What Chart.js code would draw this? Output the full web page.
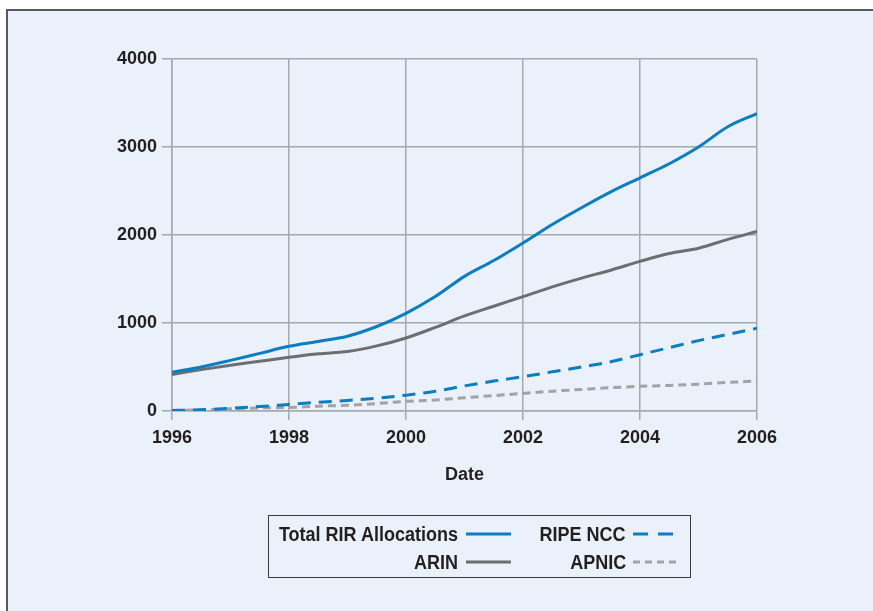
<!DOCTYPE html>
<html>
<head>
<meta charset="utf-8">
<script src="https://cdn.jsdelivr.net/npm/chart.js@4/dist/chart.umd.min.js"></script>
<style>
  html, body { margin: 0; padding: 0; background: #fff; }
  body { width: 873px; height: 611px; position: relative; overflow: hidden;
         font-family: 'Liberation Sans', Arial, sans-serif; }
  #frame { position: absolute; left: 6px; top: 9px; width: 900px; height: 640px;
           background: #eaf1fa; border-top: 2px solid #5a5a5c; border-left: 2px solid #5a5a5c; }
  #wrap { position: absolute; left: 0; top: 0; width: 873px; height: 611px; }
  #legend { position: absolute; left: 268px; top: 515px; width: 421px; height: 61px;
            border: 1px solid #3a3a3c; font-weight: bold; font-size: 20px; color: #231f20; }
  .item { position: absolute; height: 24px; line-height: 24px; }
  .item span { position: absolute; white-space: nowrap; top: 0;
               transform: scaleX(0.9); transform-origin: right center; }
  .item svg { position: absolute; top: 6px; }
</style>
</head>
<body>
<div id="frame"></div>
<div id="wrap"><canvas id="chart" width="873" height="611"></canvas></div>
<div id="legend"></div>
<script>
const years = [1996, 1996.5, 1997, 1997.5, 1998, 1998.5, 1999, 1999.5, 2000, 2000.5, 2001,
               2001.5, 2002, 2002.5, 2003, 2003.5, 2004, 2004.5, 2005, 2005.5, 2006];
const totalRIR = [440, 500, 575, 655, 735, 790, 850, 960, 1110, 1300, 1530,
                  1710, 1910, 2120, 2310, 2490, 2650, 2810, 3000, 3230, 3380];
const arin = [415, 470, 520, 565, 610, 650, 675, 740, 830, 950, 1080,
              1190, 1300, 1410, 1510, 1600, 1700, 1790, 1850, 1950, 2040];
const ripeNcc = [5, 15, 30, 50, 75, 100, 120, 145, 180, 225, 285,
                 340, 390, 445, 500, 560, 640, 720, 800, 870, 940];
const apnic = [5, 15, 25, 35, 40, 55, 65, 85, 110, 125, 150,
               175, 200, 225, 245, 265, 280, 290, 305, 325, 340];
const xTicks = [1996, 1998, 2000, 2002, 2004, 2006];
const yTicks = [0, 1000, 2000, 3000, 4000];

const BLUE = '#0a7dc4';
const DARK = '#6d6e71';
const LIGHT = '#a2a3a6';
const GRID = '#a7a9ac';
const FONT = "'Liberation Sans', Arial, sans-serif";

function points(values) {
    return years.map((y, i) => ({ x: y, y: values[i] }));
}

const series = [
    { label: 'Total RIR Allocations', data: totalRIR, color: BLUE, dash: [], legendDash: '' },
    { label: 'ARIN', data: arin, color: DARK, dash: [], legendDash: '' },
    { label: 'RIPE NCC', data: ripeNcc, color: BLUE, dash: [13, 8], legendDash: '15 10' },
    { label: 'APNIC', data: apnic, color: LIGHT, dash: [8, 5], legendDash: '7 5' }
];

new Chart(document.getElementById('chart'), {
    type: 'line',
    data: {
        datasets: series.map(s => ({
            label: s.label,
            data: points(s.data),
            borderColor: s.color,
            borderWidth: 3,
            borderDash: s.dash,
            pointRadius: 0,
            cubicInterpolationMode: 'monotone',
            fill: false
        }))
    },
    options: {
        responsive: false,
        animation: false,
        layout: { padding: { left: 0, top: 59, right: 116, bottom: 120 } },
        plugins: { legend: { display: false }, tooltip: { enabled: false } },
        scales: {
            x: {
                type: 'linear',
                min: 1996,
                max: 2006,
                afterBuildTicks(scale) { scale.ticks = xTicks.map(v => ({ value: v })); },
                afterFit(scale) { scale.height = 80; },
                grid: { color: GRID, lineWidth: 1.5, tickLength: 9, tickColor: GRID },
                border: { color: GRID, width: 1.5 },
                ticks: {
                    color: '#231f20', padding: 7,
                    font: { family: FONT, size: 18, weight: 'bold' },
                    callback: v => String(v)
                },
                title: {
                    display: true, text: 'Date', color: '#231f20',
                    padding: { top: 4, bottom: 5 },
                    font: { family: FONT, size: 18, weight: 'bold' }
                }
            },
            y: {
                min: 0,
                max: 4000,
                afterBuildTicks(scale) { scale.ticks = yTicks.map(v => ({ value: v })); },
                afterFit(scale) { scale.width = 172; },
                grid: { color: GRID, lineWidth: 1.5, tickLength: 10, tickColor: GRID },
                border: { color: GRID, width: 1.5 },
                ticks: {
                    color: '#231f20', padding: 5,
                    font: { family: FONT, size: 18, weight: 'bold' },
                    callback: v => String(v)
                }
            }
        }
    }
});

// legend: text on the left, line sample on the right, two columns
const legendEl = document.getElementById('legend');
const slots = [
    { left: 0, width: 243, top: 6, textEnd: 189, sampleAt: 197, sampleW: 45 },
    { left: 0, width: 243, top: 34, textEnd: 189, sampleAt: 197, sampleW: 45 },
    { left: 243, width: 167, top: 6, textEnd: 114, sampleAt: 121, sampleW: 40 },
    { left: 243, width: 167, top: 34, textEnd: 114, sampleAt: 121, sampleW: 45 }
];
series.forEach((s, i) => {
    const slot = slots[i];
    const div = document.createElement('div');
    div.className = 'item';
    div.style.left = slot.left + 'px';
    div.style.width = slot.width + 'px';
    div.style.top = slot.top + 'px';
    div.innerHTML = `<span>${s.label}</span>` +
        `<svg width="${slot.sampleW}" height="12"><line x1="0" y1="6" x2="${slot.sampleW}" y2="6" ` +
        `stroke="${s.color}" stroke-width="3" stroke-dasharray="${s.legendDash || 'none'}"/></svg>`;
    div.querySelector('span').style.right = (slot.width - slot.textEnd) + 'px';
    div.querySelector('svg').style.left = slot.sampleAt + 'px';
    legendEl.appendChild(div);
});
</script>
</body>
</html>
